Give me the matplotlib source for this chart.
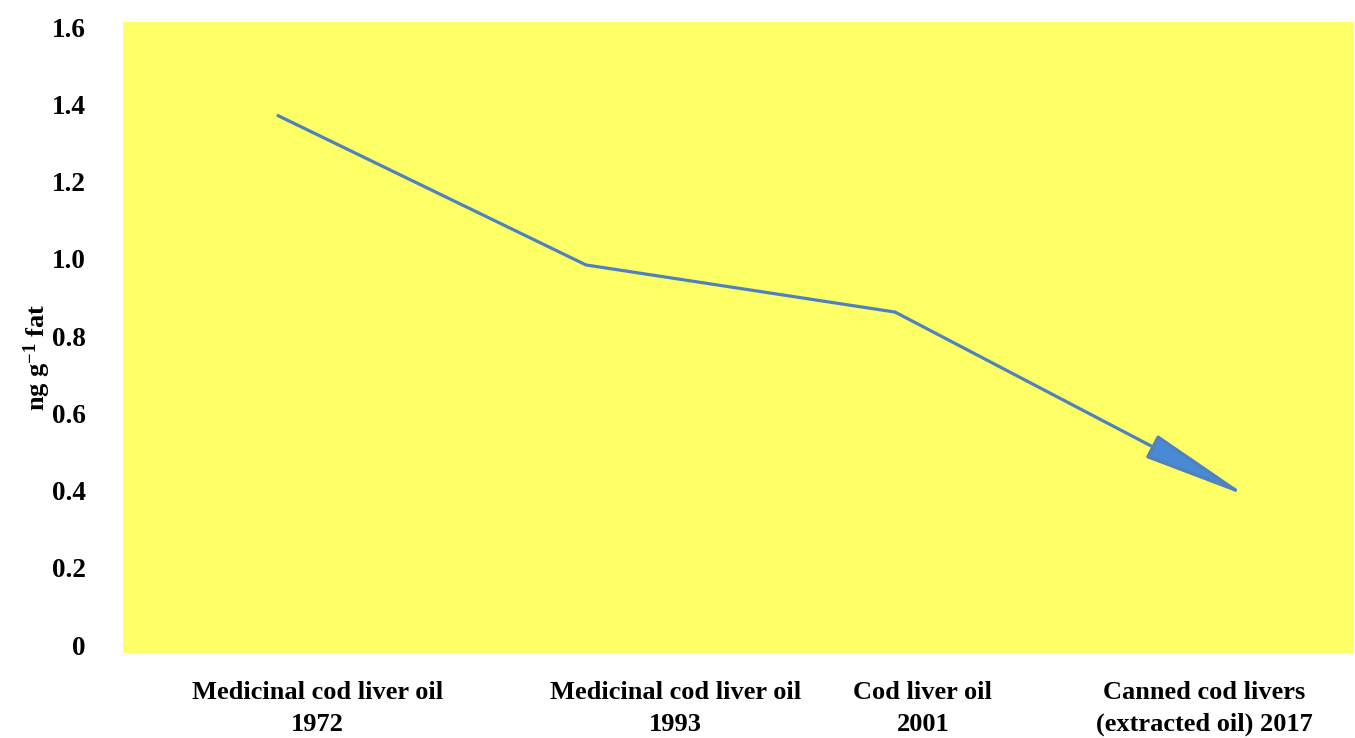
import matplotlib
matplotlib.use("Agg")
import matplotlib.pyplot as plt

# data
categories = ["Medicinal cod liver oil\n1972", "Medicinal cod liver oil\n1993",
              "Cod liver oil\n2001", "Canned cod livers\n(extracted oil) 2017"]
x_vals = [0, 1, 2, 3.14]
values = [1.372, 0.984, 0.862, 0.385]
yticks = [0, 0.2, 0.4, 0.6, 0.8, 1.0, 1.2, 1.4, 1.6]
ytick_labels = ["0", "0.2", "0.4", "0.6", "0.8", "1.0", "1.2", "1.4", "1.6"]
label_x = [0.13, 1.29, 2.09, 3.0]

plt.rcParams['font.family'] = ['Liberation Serif', 'DejaVu Serif']
plt.rcParams['font.weight'] = 'bold'
plt.rcParams['mathtext.fontset'] = 'custom'
plt.rcParams['mathtext.rm'] = 'Liberation Serif:bold'
plt.rcParams['mathtext.bf'] = 'Liberation Serif:bold'
plt.rcParams['mathtext.it'] = 'Liberation Serif:bold'

fig = plt.figure(figsize=(13.55, 7.38), dpi=100)
ax = fig.add_axes([123/1355, 1-653/738, (1354-123)/1355, (653-22)/738])
ax.set_facecolor('#FFFF66')
for s in ax.spines.values():
    s.set_visible(False)

line_color = '#4F81BD'
ax.plot(x_vals[:3], values[:3], color=line_color, lw=2.3, solid_capstyle='butt', zorder=3)
ax.annotate('', xy=(x_vals[3], values[3]), xytext=(x_vals[2], values[2]),
            arrowprops=dict(arrowstyle='-|>,head_length=67,head_width=8',
                            mutation_scale=1, lw=2.3,
                            facecolor='#4A8AD4', edgecolor=line_color,
                            shrinkA=0, shrinkB=0), zorder=3)

ax.set_xlim(-0.498, 3.485)
ax.set_ylim(-0.0207, 1.613)
ax.set_yticks(yticks)
ax.set_yticklabels(ytick_labels, fontsize=19.5, fontweight='bold')
ax.tick_params(axis='y', length=0, pad=27)
ax.set_xticks([])

for lx, lab in zip(label_x, categories):
    ax.text(lx, -0.044, lab, transform=ax.get_xaxis_transform(), ha='center', va='top',
            fontsize=19, fontweight='bold', linespacing=1.5, multialignment='center')

fig.text(37/1355, 1-357/738, r'ng g$^{-1}$ fat', rotation=90, ha='center', va='center',
         fontsize=19, fontweight='bold')

fig.savefig('out.png', dpi=100)
